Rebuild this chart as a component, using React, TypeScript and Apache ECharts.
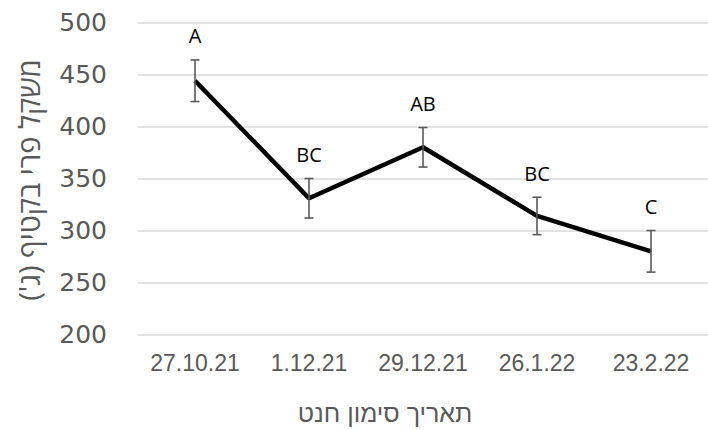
import React, { useEffect, useRef } from "react";
import * as echarts from "echarts";

const categories = ["27.10.21", "1.12.21", "29.12.21", "26.1.22", "23.2.22"];
const means = [444, 331, 380, 314, 280];
const errors = [20, 19, 19, 18, 20];
const letters = ["A", "BC", "AB", "BC", "C"];
const yMin = 200;
const yMax = 500;
const yStep = 50;
const yTitle = "משקל פרי בקטיף (ג')\u200F";
const xTitle = "תאריך סימון חנט";

export default function App() {
  const ref = useRef<HTMLDivElement>(null);
  useEffect(() => {
    if (!ref.current) return;
    const chart = echarts.init(ref.current, null, { renderer: "svg" });
    const errData = categories.map((_, i) => [i, means[i] - errors[i], means[i] + errors[i]]);
    chart.setOption({
      animation: false,
      grid: { left: 138, right: -8, top: 22.5, bottom: 95.5, containLabel: false },
      xAxis: {
        type: "category",
        data: categories,
        boundaryGap: true,
        axisLine: { show: false },
        axisTick: { show: false },
        axisLabel: {
          interval: 0,
          color: "#595959",
          fontSize: 23,
          fontFamily: "'Liberation Sans', Arial, sans-serif",
          margin: 17,
        },
      },
      yAxis: {
        type: "value",
        min: yMin,
        max: yMax,
        interval: yStep,
        axisLine: { show: false },
        axisTick: { show: false },
        axisLabel: {
          color: "#595959",
          fontSize: 25,
          fontFamily: "'DejaVu Sans', sans-serif",
          margin: 31,
        },
        splitLine: { lineStyle: { color: "#d9d9d9", width: 1.5 } },
      },
      graphic: [
        {
          type: "text",
          x: 28,
          y: 180,
          rotation: Math.PI / 2,
          style: {
            text: yTitle,
            fill: "#595959",
            fontSize: 29,
            fontFamily: "'Open Sans', 'DejaVu Sans', sans-serif",
            align: "center",
            verticalAlign: "middle",
          },
        },
        {
          type: "text",
          x: 385,
          y: 413,
          style: {
            text: xTitle,
            fill: "#595959",
            fontSize: 25,
            fontFamily: "'Liberation Sans', Arial, sans-serif",
            align: "center",
            verticalAlign: "middle",
          },
        },
      ],
      series: [
        {
          type: "line",
          data: means,
          symbol: "none",
          lineStyle: { color: "#000", width: 4.5 },
          z: 3,
        },
        {
          type: "custom",
          data: errData,
          z: 4,
          renderItem: (params: any, api: any) => {
            const i = api.value(0);
            const lo = api.coord([i, api.value(1)]);
            const hi = api.coord([i, api.value(2)]);
            const cap = 4.5;
            const ls = { stroke: "#595959", lineWidth: 1.6 };
            return {
              type: "group",
              children: [
                { type: "line", shape: { x1: hi[0], y1: hi[1], x2: lo[0], y2: lo[1] }, style: ls },
                { type: "line", shape: { x1: hi[0] - cap, y1: hi[1], x2: hi[0] + cap, y2: hi[1] }, style: ls },
                { type: "line", shape: { x1: lo[0] - cap, y1: lo[1], x2: lo[0] + cap, y2: lo[1] }, style: ls },
                {
                  type: "text",
                  x: hi[0],
                  y: hi[1] - 24,
                  style: {
                    text: letters[params.dataIndex],
                    fill: "#000",
                    fontSize: 20,
                    fontFamily: "'Open Sans', sans-serif",
                    align: "center",
                    verticalAlign: "middle",
                  },
                },
              ],
            };
          },
        },
      ],
    });
    return () => chart.dispose();
  }, []);
  return <div ref={ref} style={{ width: 708, height: 430, position: "absolute", left: 0, top: 0 }} />;
}
